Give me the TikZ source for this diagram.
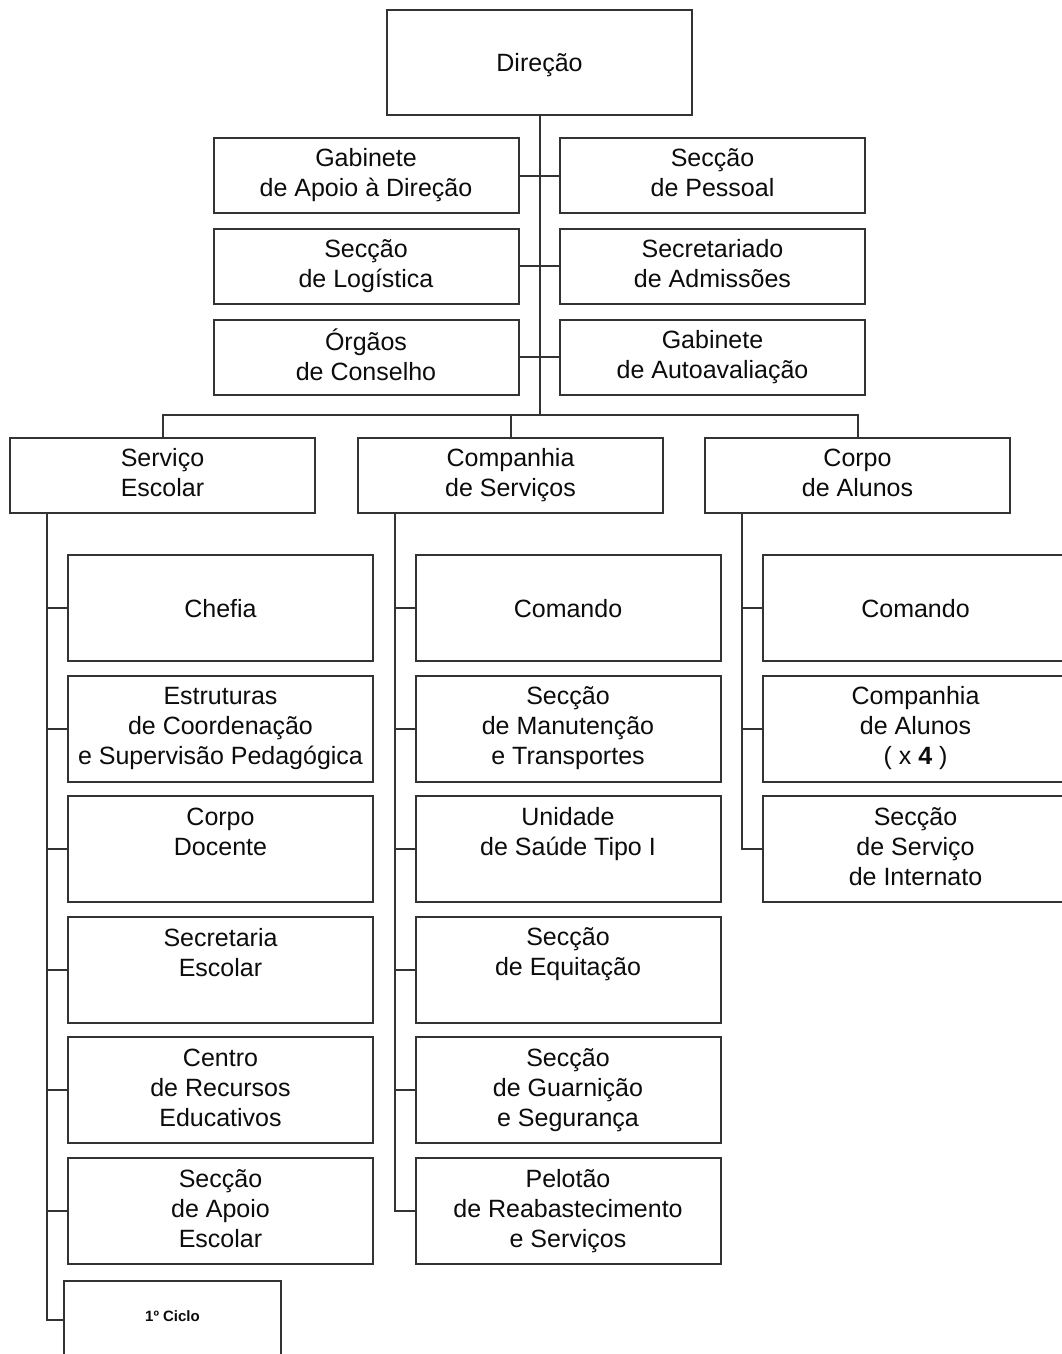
\documentclass[tikz,border=0pt]{standalone}
\usepackage{fontspec}
\setmainfont{Liberation Sans}
\definecolor{linec}{HTML}{333333}
\definecolor{textc}{HTML}{0C0C0C}
\newcommand{\boxfont}{\fontsize{25}{30}\selectfont}
\newcommand{\topstrut}[1]{\rule{0pt}{#1}}
\newcommand{\botstrut}[1]{\rule[-#1]{0pt}{#1}}
\begin{document}
\begin{tikzpicture}[x=1pt,y=-1pt,
  box/.style={draw=linec, line width=2pt, fill=white, text=textc,
    minimum width=305pt, align=center, font=\boxfont, inner sep=0pt,
    execute at begin node=\topstrut{25pt}, execute at end node=\botstrut{5pt}},
  single/.style={execute at begin node=\topstrut{23pt}, execute at end node=\botstrut{7pt}},
  topbox/.style={box, minimum height=75pt},
  tallbox/.style={box, minimum height=106pt},
  link/.style={draw=linec, line width=2pt}]
\useasboundingbox (0,0) rectangle (1062,1354);
\clip (0,0) rectangle (1062,1354);
\fill[white] (0,0) rectangle (1062,1354);

% head office
\node[box, single, minimum height=105pt] (direcao) at (539.5,62.5) {Direção};

% staff sections beside the main line
\node[topbox] (gabapoio) at (366,175.5) {Gabinete\\de Apoio à Direção};
\node[topbox] (secpessoal) at (712.5,175.5) {Secção\\de Pessoal};
\node[topbox] (seclogistica) at (366,266) {Secção\\de Logística};
\node[topbox] (secadmissoes) at (712.5,266) {Secretariado\\de Admissões};
\node[topbox] (orgaos) at (366,357) {Órgãos\\de Conselho};
\node[topbox] (gabauto) at (712.5,357) {Gabinete\\de Autoavaliação};

% main branches
\node[topbox] (servico) at (162.5,475) {Serviço\\Escolar};
\node[topbox] (compserv) at (510.5,475) {Companhia\\de Serviços};
\node[topbox] (corpoal) at (857.5,475) {Corpo\\de Alunos};

% Serviço Escolar
\node[tallbox, single] (chefia) at (220.5,608) {Chefia};
\node[tallbox] (estruturas) at (220.5,728.5) {Estruturas\\de Coordenação\\e Supervisão Pedagógica};
\node[tallbox] (docente) at (220.5,849) {Corpo\\Docente\\\mbox{}};
\node[tallbox] (secretaria) at (220.5,969.5) {Secretaria\\Escolar\\\mbox{}};
\node[tallbox] (centro) at (220.5,1090) {Centro\\de Recursos\\Educativos};
\node[tallbox] (apoioesc) at (220.5,1211) {Secção\\de Apoio\\Escolar};
\draw[linec, line width=2pt, fill=white] (64,1380) |- (281,1281) -- (281,1380);
\node[text=textc, font=\fontsize{15}{18}\selectfont\bfseries] (ciclo) at (172.5,1316) {1º Ciclo};
\coordinate (ciclo-w) at (64,1320);

% Companhia de Serviços
\node[tallbox, single] (comandoserv) at (568,608) {Comando};
\node[tallbox] (manutencao) at (568,728.5) {Secção\\de Manutenção\\e Transportes};
\node[tallbox] (saude) at (568,849) {Unidade\\de Saúde Tipo I\\\mbox{}};
\node[tallbox] (equitacao) at (568,969.5) {Secção\\de Equitação\\\mbox{}};
\node[tallbox] (guarnicao) at (568,1090) {Secção\\de Guarnição\\e Segurança};
\node[tallbox] (pelotao) at (568,1211) {Pelotão\\de Reabastecimento\\e Serviços};

% Corpo de Alunos
\node[tallbox, single] (comandoal) at (915.5,608) {Comando};
\node[tallbox] (compal) at (915.5,728.5) {Companhia\\de Alunos\\( x \textbf{4} )};
\node[tallbox] (internato) at (915.5,849) {Secção\\de Serviço\\de Internato};

% connectors at the top
\coordinate (bus) at (539.5,415);
\draw[link] (direcao.south) -- (bus);
\draw[link] (gabapoio.east) -- (secpessoal.west);
\draw[link] (seclogistica.east) -- (secadmissoes.west);
\draw[link] (orgaos.east) -- (gabauto.west);
\draw[link] (servico.north) |- (bus) -| (corpoal.north);
\draw[link] (compserv.north) -- (compserv.north |- bus);

% Serviço Escolar spine
\draw[link] (servico.south) ++(-115.5,0) coordinate (sp1) |- (ciclo-w);
\foreach \n in {chefia,estruturas,docente,secretaria,centro,apoioesc}
  \draw[link] (sp1 |- \n.west) -- (\n.west);

% Companhia de Serviços spine
\draw[link] (compserv.south) ++(-115.5,0) coordinate (sp2) |- (pelotao.west);
\foreach \n in {comandoserv,manutencao,saude,equitacao,guarnicao}
  \draw[link] (sp2 |- \n.west) -- (\n.west);

% Corpo de Alunos spine
\draw[link] (corpoal.south) ++(-115.5,0) coordinate (sp3) |- (internato.west);
\foreach \n in {comandoal,compal}
  \draw[link] (sp3 |- \n.west) -- (\n.west);
\end{tikzpicture}
\end{document}
